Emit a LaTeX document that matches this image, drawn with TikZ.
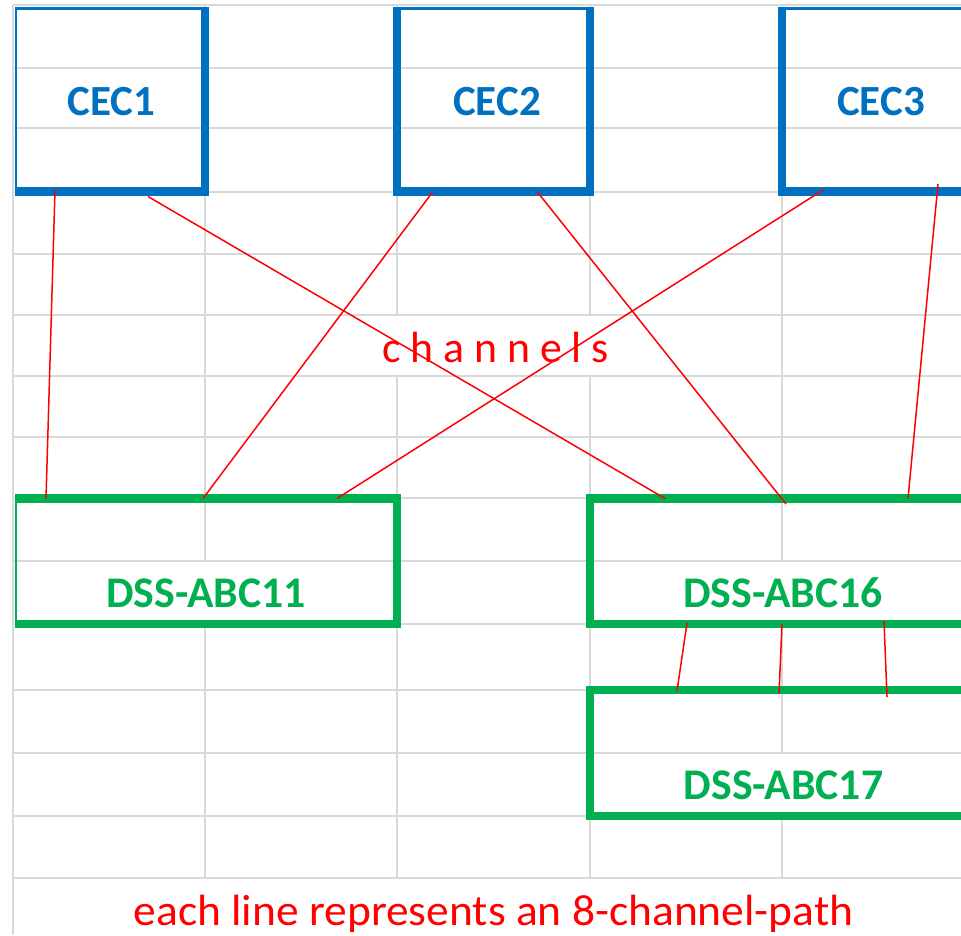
\documentclass[tikz,border=0pt]{standalone}
\usepackage{fontspec}
\setmainfont{Carlito}
\usetikzlibrary{calc}
\definecolor{gridgray}{HTML}{D9D9D9}
\definecolor{cecblue}{HTML}{0070C0}
\definecolor{dssgreen}{HTML}{00B050}
\definecolor{pathred}{HTML}{FF0000}
\tikzset{
  gridline/.style={draw=gridgray, line width=2pt},
  unitbox/.style={line width=8.5pt, inner sep=0pt, outer sep=0pt, rectangle},
  cecbox/.style={unitbox, draw=cecblue},
  dssbox/.style={unitbox, draw=dssgreen},
  ceclabel/.style={anchor=base, inner sep=0pt, text=cecblue, font=\fontsize{43}{50}\selectfont\bfseries},
  dsslabel/.style={anchor=base, inner sep=0pt, text=dssgreen, font=\fontsize{43.75}{50}\selectfont\bfseries},
  notelabel/.style={anchor=base, inner sep=0pt, text=pathred, font=\fontsize{43.75}{50}\selectfont},
  path8/.style={draw=pathred, line width=1.5pt}
}
\begin{document}
\begin{tikzpicture}[x=1pt, y=-1pt]
  \useasboundingbox (0,0) rectangle (961,935);
  \fill[white] (0,0) rectangle (961,935);

  % spreadsheet grid: rows
  \foreach \r in {5,68,128,192,254,315,376,437,498,561,624,690,753,816,878}
    \draw[gridline] (13,\r) -- (961,\r);
  % spreadsheet grid: columns (gaps where cell text overflows)
  \draw[gridline] (13,5) -- (13,935);
  \draw[gridline] (205,5) -- (205,561) (205,624) -- (205,878);
  \draw[gridline] (397,5) -- (397,315) (397,376) -- (397,878);
  \draw[gridline] (590,5) -- (590,315) (590,376) -- (590,878);
  \draw[gridline] (782,5) -- (782,561) (782,624) -- (782,753) (782,816) -- (782,878);

  % thick cell-range borders, cut off at the sheet edge
  \begin{scope}
    \clip (15,7) rectangle (961,935);
    \node[cecbox, minimum width=192pt, minimum height=185.75pt] (cec1) at (109,98.625) {};
    \node[cecbox, minimum width=193pt, minimum height=185.75pt] (cec2) at (493.5,98.625) {};
    \node[cecbox, minimum width=192pt, minimum height=185.75pt] (cec3) at (878,98.625) {};
    \node[dssbox, minimum width=384pt, minimum height=125.5pt] (dss11) at (205,561.25) {};
    \node[dssbox, minimum width=384pt, minimum height=125.5pt] (dss16) at (782,561.25) {};
    \node[dssbox, minimum width=384pt, minimum height=126pt] (dss17) at (782,753) {};
  \end{scope}

  % cell texts
  \node[ceclabel] (cec1text) at (111.5,115) {CEC1};
  \node[ceclabel] (cec2text) at (497,115) {CEC2};
  \node[ceclabel] (cec3text) at (881,115) {CEC3};
  \node[dsslabel] (dss11text) at (206,607) {DSS-ABC11};
  \node[dsslabel] (dss16text) at (783,607) {DSS-ABC16};
  \node[dsslabel] (dss17text) at (783.5,799) {DSS-ABC17};
  \node[notelabel] (channels) at (495.5,362) {c h a n n e l s};
  \node[notelabel, xscale=1.04] (legend) at (493.5,925) {each line represents an 8-channel-path};

  % 8-channel paths
  \draw[path8] ([xshift=42pt,yshift=1.5pt]cec1.south west) -- ([xshift=33pt]dss11.north west);
  \draw[path8] ([xshift=135pt,yshift=-5pt]cec1.south west) -- ([xshift=75pt]dss16.north west);
  \draw[path8] ([xshift=36pt]cec2.south west) -- ([xshift=190pt]dss11.north west);
  \draw[path8] ([xshift=140pt]cec2.south west) -- ([xshift=196pt,yshift=-5.5pt]dss16.north west);
  \draw[path8] ([xshift=41pt,yshift=1.5pt]cec3.south west) -- ([xshift=324pt]dss11.north west);
  \draw[path8] ([xshift=156pt,yshift=7.5pt]cec3.south west) -- ([xshift=318pt]dss16.north west);
  \draw[path8] ([xshift=97pt,yshift=1pt]dss16.south west) -- ([xshift=87pt,yshift=-1pt]dss17.north west);
  \draw[path8] ([xshift=192pt]dss16.south west) -- ([xshift=189pt,yshift=-4pt]dss17.north west);
  \draw[path8] ([xshift=294pt,yshift=3pt]dss16.south west) -- ([xshift=297pt,yshift=-7pt]dss17.north west);
\end{tikzpicture}
\end{document}
